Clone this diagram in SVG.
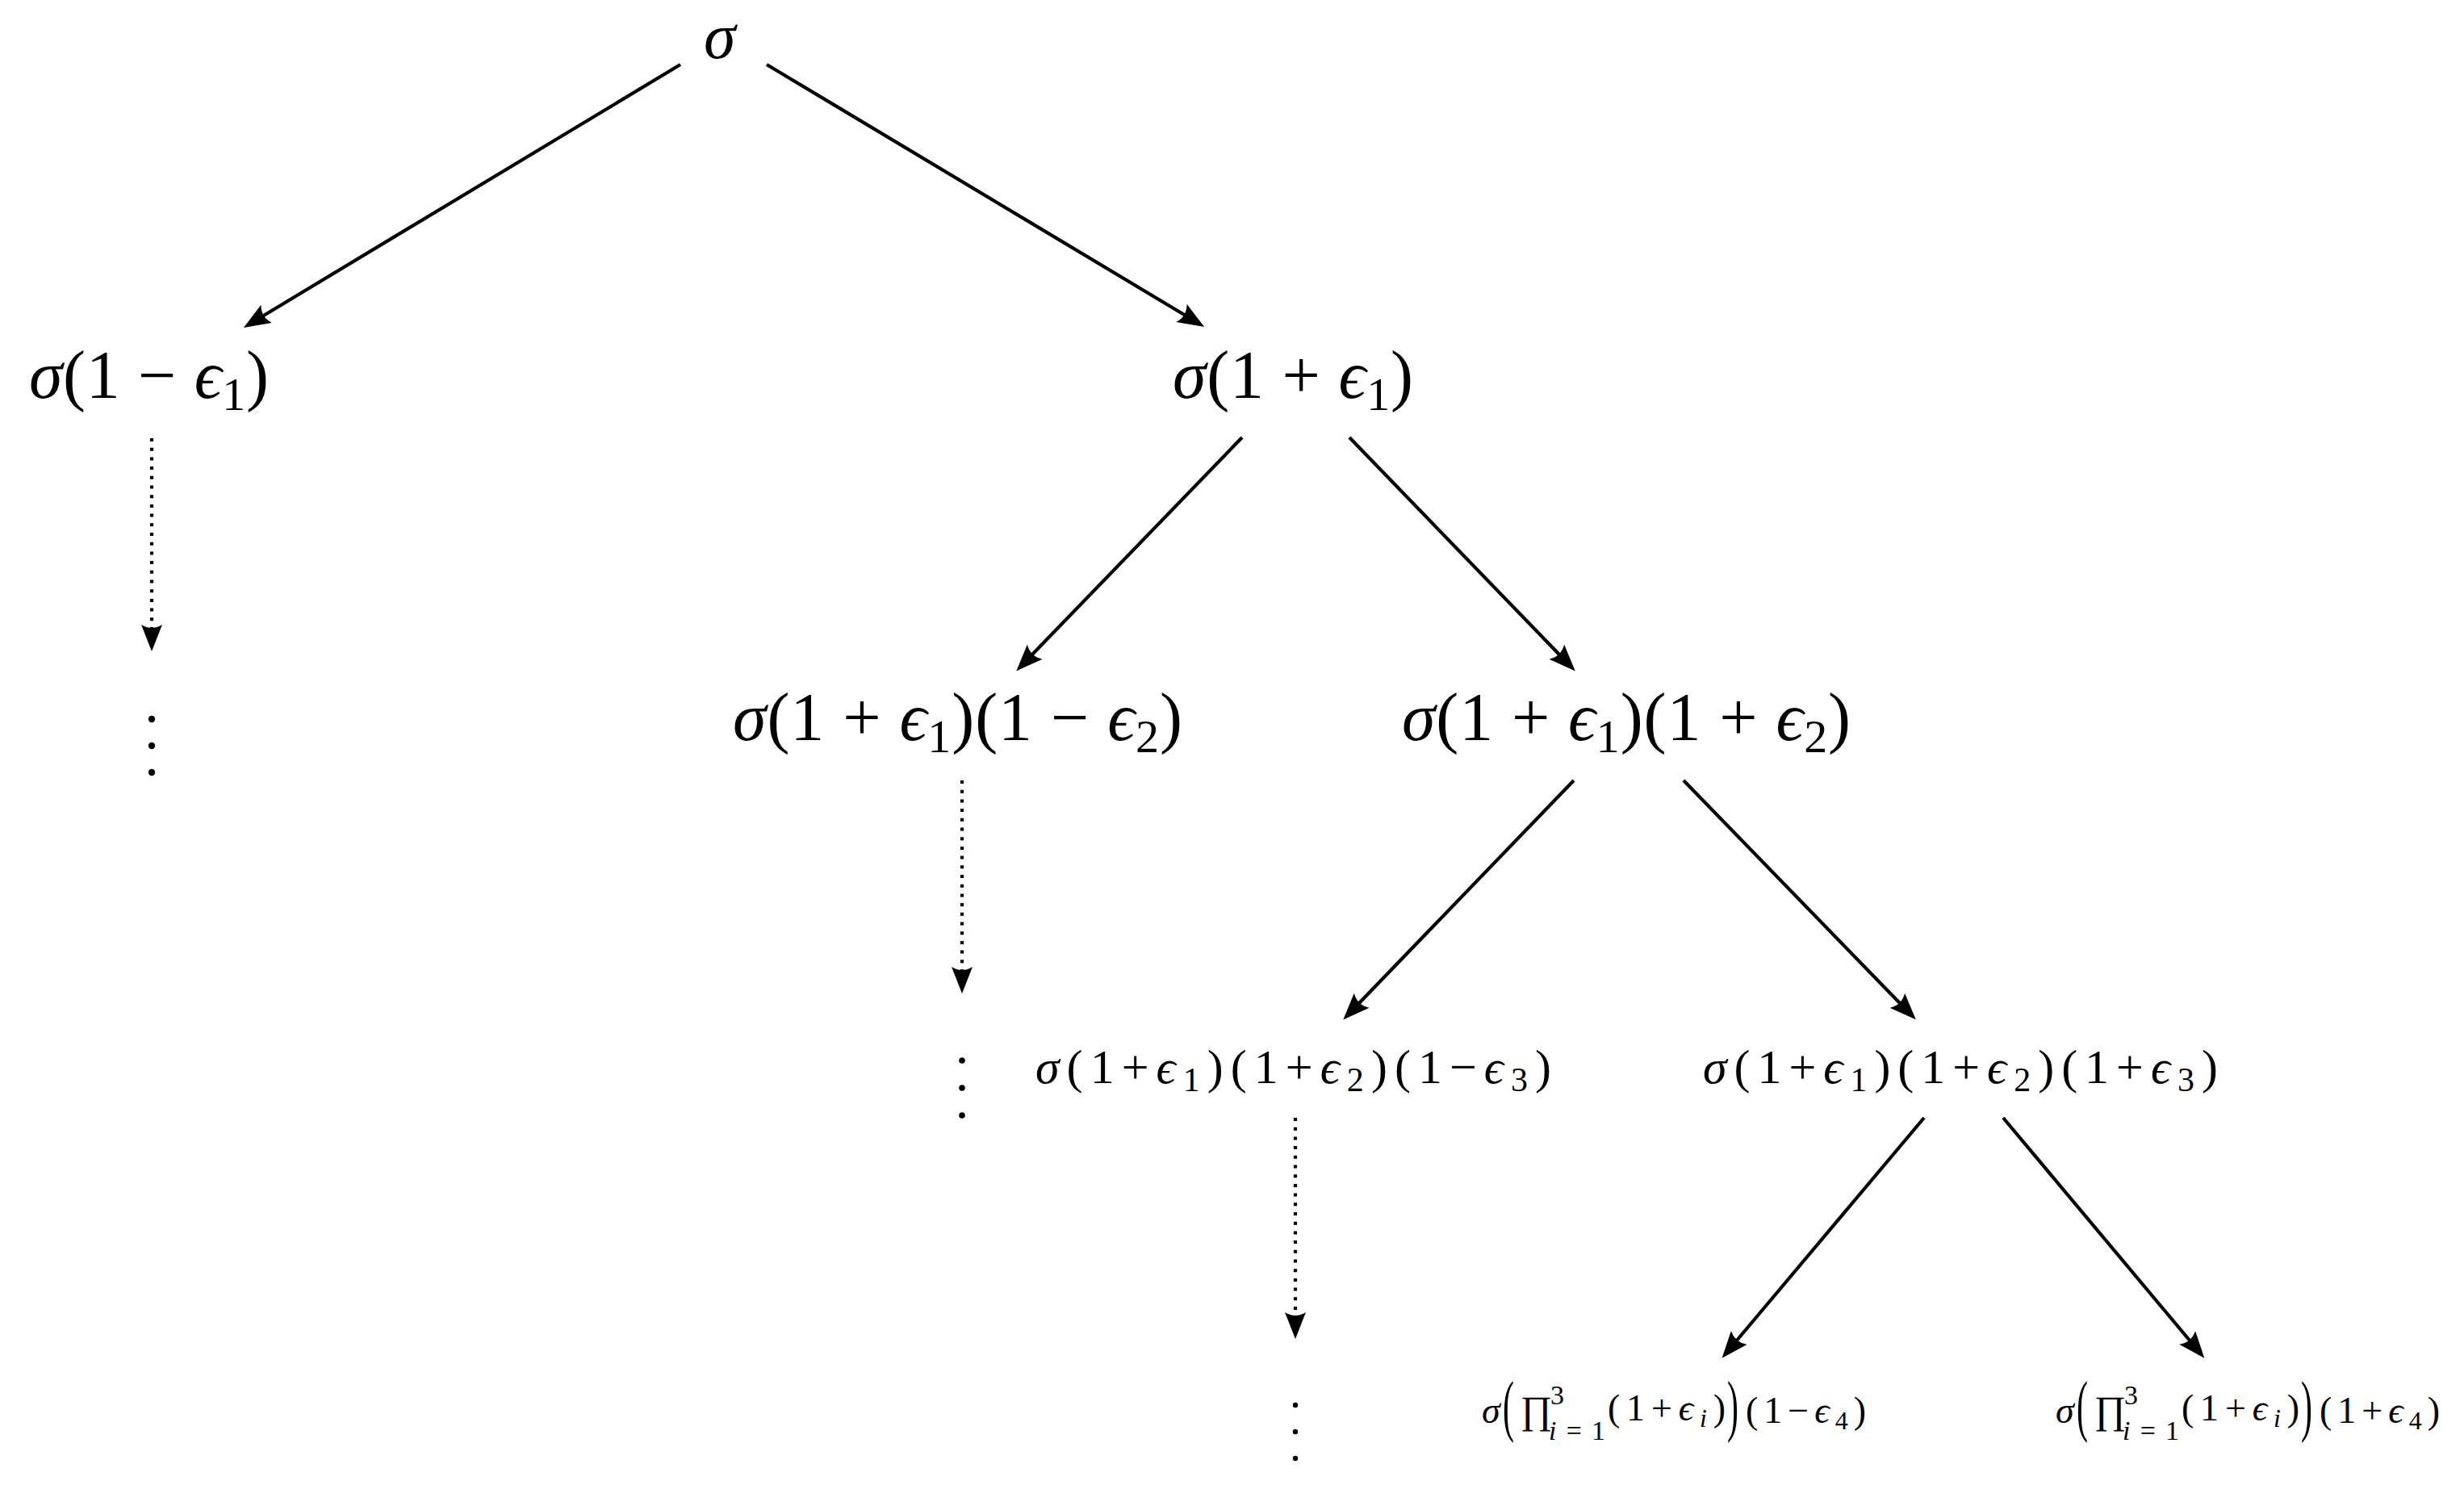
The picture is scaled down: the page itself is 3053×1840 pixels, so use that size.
<svg xmlns="http://www.w3.org/2000/svg" width="3053" height="1840" viewBox="0 0 3053 1840">
<style>
.t { font-family: "Liberation Serif", "DejaVu Serif", serif; fill: #000; }
.i { font-style: italic; }
.l1 { font-size: 84px; }
.l3 { font-size: 60px; }
.l4 { font-size: 46px; }
.s4 { font-size: 34px; }
.edge { stroke: #000; stroke-width: 4.2; fill: none; marker-end: url(#ah); }
.dotted { stroke-dasharray: 4 7.7; }
.vd { fill: #000; }
</style>
<defs>
<marker id="ah" markerUnits="userSpaceOnUse" markerWidth="34" markerHeight="26" refX="6" refY="13" orient="auto" viewBox="0 0 34 26">
<path d="M0,0 Q8,13 0,26 L33,13 Z" fill="#000"/>
</marker>
</defs>
<rect width="3053" height="1840" fill="#fff"/>

<g id="connectors">
<line class="edge" x1="843" y1="80" x2="325" y2="392"/>
<line class="edge" x1="950" y1="80" x2="1469" y2="391"/>
<line class="edge" x1="1539" y1="542" x2="1278" y2="812"/>
<line class="edge" x1="1672" y1="542" x2="1933" y2="812"/>
<line class="edge" x1="1950" y1="967" x2="1683" y2="1244"/>
<line class="edge" x1="2086" y1="967" x2="2355" y2="1244"/>
<line class="edge" x1="2384" y1="1385" x2="2151" y2="1662"/>
<line class="edge" x1="2482" y1="1385" x2="2714" y2="1662"/>
<line class="edge dotted" x1="188" y1="543" x2="188" y2="780"/>
<line class="edge dotted" x1="1192" y1="967" x2="1192" y2="1204"/>
<line class="edge dotted" x1="1605" y1="1385" x2="1605" y2="1632"/>
</g>

<g id="n0">
<text class="t i" font-size="80" x="872" y="72">σ</text>
</g>

<g id="n1">
<text class="t l1" x="36" y="493" textLength="297" lengthAdjust="spacing"><tspan class="i">σ</tspan>(1 − <tspan class="i">ϵ</tspan><tspan font-size="58" dy="15">1</tspan><tspan dy="-15">)</tspan></text>
</g>

<g id="n2">
<text class="t l1" x="1453" y="493" textLength="298" lengthAdjust="spacing"><tspan class="i">σ</tspan>(1 + <tspan class="i">ϵ</tspan><tspan font-size="58" dy="15">1</tspan><tspan dy="-15">)</tspan></text>
</g>

<g id="d1">
<circle class="vd" cx="188" cy="891" r="4.2"/>
<circle class="vd" cx="188" cy="924" r="4.2"/>
<circle class="vd" cx="188" cy="957" r="4.2"/>
</g>

<g id="n3">
<text class="t l1" x="908" y="917" textLength="557" lengthAdjust="spacing"><tspan class="i">σ</tspan>(1 + <tspan class="i">ϵ</tspan><tspan font-size="58" dy="15">1</tspan><tspan dy="-15">)(1 − </tspan><tspan class="i">ϵ</tspan><tspan font-size="58" dy="15">2</tspan><tspan dy="-15">)</tspan></text>
</g>

<g id="n4">
<text class="t l1" x="1737" y="917" textLength="556" lengthAdjust="spacing"><tspan class="i">σ</tspan>(1 + <tspan class="i">ϵ</tspan><tspan font-size="58" dy="15">1</tspan><tspan dy="-15">)(1 + </tspan><tspan class="i">ϵ</tspan><tspan font-size="58" dy="15">2</tspan><tspan dy="-15">)</tspan></text>
</g>

<g id="d2">
<circle class="vd" cx="1192" cy="1314" r="3.8"/>
<circle class="vd" cx="1192" cy="1348" r="3.8"/>
<circle class="vd" cx="1192" cy="1382" r="3.8"/>
</g>

<g id="n5">
<text class="t l3" x="1283" y="1342" textLength="639" lengthAdjust="spacing"><tspan class="i">σ</tspan>(1+<tspan class="i">ϵ</tspan><tspan font-size="42" dy="10">1</tspan><tspan dy="-10">)(1+</tspan><tspan class="i">ϵ</tspan><tspan font-size="42" dy="10">2</tspan><tspan dy="-10">)(1−</tspan><tspan class="i">ϵ</tspan><tspan font-size="42" dy="10">3</tspan><tspan dy="-10">)</tspan></text>
</g>

<g id="n6">
<text class="t l3" x="2110" y="1342" textLength="638" lengthAdjust="spacing"><tspan class="i">σ</tspan>(1+<tspan class="i">ϵ</tspan><tspan font-size="42" dy="10">1</tspan><tspan dy="-10">)(1+</tspan><tspan class="i">ϵ</tspan><tspan font-size="42" dy="10">2</tspan><tspan dy="-10">)(1+</tspan><tspan class="i">ϵ</tspan><tspan font-size="42" dy="10">3</tspan><tspan dy="-10">)</tspan></text>
</g>

<g id="d3">
<circle class="vd" cx="1605" cy="1741" r="3.2"/>
<circle class="vd" cx="1605" cy="1774" r="3.2"/>
<circle class="vd" cx="1605" cy="1807" r="3.2"/>
</g>

<g id="n7">
<text class="t i l4" x="1836" y="1763">σ</text>
<text class="t" font-size="84" transform="translate(1862,1770) scale(0.5,1)">(</text>
<text class="t" font-size="48" x="1884" y="1763">∏</text>
<text class="t s4" x="1921" y="1740">3</text>
<text class="t s4" x="1919" y="1784" textLength="70" lengthAdjust="spacing"><tspan class="i">i</tspan>=1</text>
<text class="t l4" x="1992" y="1760" textLength="146" lengthAdjust="spacing">(1+<tspan class="i">ϵ</tspan><tspan class="i" font-size="32" dy="8">i</tspan><tspan dy="-8">)</tspan></text>
<text class="t" font-size="84" transform="translate(2140,1770) scale(0.5,1)">)</text>
<text class="t l4" x="2163" y="1763" textLength="149" lengthAdjust="spacing">(1−<tspan class="i">ϵ</tspan><tspan font-size="32" dy="8">4</tspan><tspan dy="-8">)</tspan></text>
</g>

<g id="n8">
<text class="t i l4" x="2547" y="1763">σ</text>
<text class="t" font-size="84" transform="translate(2573,1770) scale(0.5,1)">(</text>
<text class="t" font-size="48" x="2595" y="1763">∏</text>
<text class="t s4" x="2632" y="1740">3</text>
<text class="t s4" x="2630" y="1784" textLength="70" lengthAdjust="spacing"><tspan class="i">i</tspan>=1</text>
<text class="t l4" x="2703" y="1760" textLength="146" lengthAdjust="spacing">(1+<tspan class="i">ϵ</tspan><tspan class="i" font-size="32" dy="8">i</tspan><tspan dy="-8">)</tspan></text>
<text class="t" font-size="84" transform="translate(2851,1770) scale(0.5,1)">)</text>
<text class="t l4" x="2874" y="1763" textLength="149" lengthAdjust="spacing">(1+<tspan class="i">ϵ</tspan><tspan font-size="32" dy="8">4</tspan><tspan dy="-8">)</tspan></text>
</g>
</svg>
